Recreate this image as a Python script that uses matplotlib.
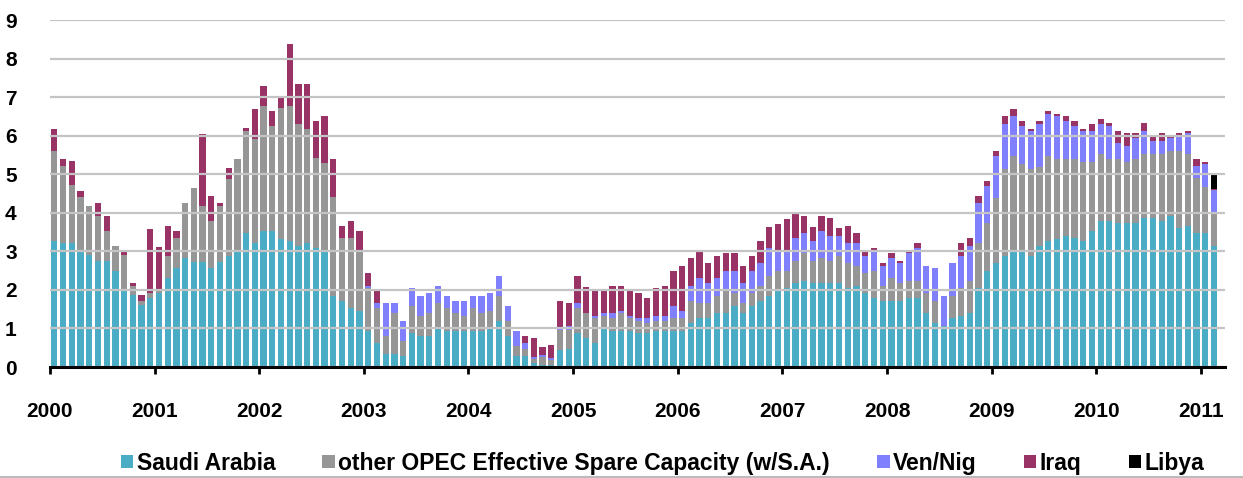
import numpy as np
import matplotlib
matplotlib.use('Agg')
from matplotlib import pyplot as plt
from matplotlib.lines import Line2D

# monthly spare capacity, Jan 2000 .. Feb 2011 (mb/d)
saudi = [3.27, 3.21, 3.21, 3.02, 2.90, 2.75, 2.75, 2.50, 1.98, 1.87, 1.61, 1.78,
         1.91, 2.30, 2.56, 2.82, 2.73, 2.73, 2.56, 2.73, 2.89, 3.02, 3.47, 3.21,
         3.53, 3.53, 3.32, 3.27, 3.15, 3.21, 3.08, 3.02, 1.85, 1.72, 1.52, 1.46,
         0.94, 0.63, 0.35, 0.35, 0.29, 0.87, 0.81, 0.81, 1.00, 0.94, 0.94, 0.94,
         0.94, 0.94, 1.00, 1.19, 0.81, 0.29, 0.29, 0.10, 0.05, 0.05, 0.44, 0.48,
         0.87, 0.74, 0.61, 1.00, 0.94, 0.94, 0.94, 0.87, 0.87, 0.94, 0.94, 0.94,
         0.94, 1.13, 1.26, 1.26, 1.39, 1.39, 1.59, 1.39, 1.59, 1.72, 1.85, 1.98,
         2.04, 2.17, 2.23, 2.17, 2.17, 2.17, 2.17, 2.04, 2.11, 1.91, 1.78, 1.72,
         1.72, 1.72, 1.78, 1.78, 1.39, 1.13, 1.07, 1.26, 1.33, 1.39, 2.04, 2.49,
         2.69, 2.89, 3.01, 3.01, 2.89, 3.15, 3.27, 3.32, 3.41, 3.34, 3.27, 3.53,
         3.79, 3.79, 3.73, 3.73, 3.73, 3.86, 3.86, 3.79, 3.92, 3.60, 3.66, 3.47,
         3.47, 3.15]
other = [2.32, 2.01, 1.50, 1.40, 1.28, 1.17, 0.79, 0.64, 0.92, 0.24, 0.11, 0.15,
         0.05, 0.59, 0.78, 1.43, 1.91, 1.45, 1.24, 1.45, 1.99, 2.38, 2.65, 2.71,
         3.23, 2.71, 3.39, 3.49, 3.15, 2.97, 2.34, 2.27, 2.57, 1.62, 1.82, 1.56,
         1.10, 0.89, 0.46, 1.04, 0.39, 0.71, 0.52, 0.58, 0.65, 0.58, 0.45, 0.39,
         0.58, 0.45, 0.46, 0.66, 0.39, 0.26, 0.19, 0.10, 0.20, 0.12, 0.52, 0.48,
         0.65, 0.65, 0.65, 0.33, 0.32, 0.45, 0.32, 0.33, 0.26, 0.26, 0.26, 0.32,
         0.32, 0.59, 0.39, 0.39, 0.46, 0.59, 0.32, 0.26, 0.32, 0.38, 0.51, 0.51,
         0.45, 0.58, 0.72, 0.58, 0.65, 0.58, 0.71, 0.65, 0.51, 0.52, 0.71, 0.38,
         0.58, 0.45, 0.45, 0.45, 0.52, 0.59, 0.00, 0.59, 0.71, 0.84, 1.17, 1.24,
         1.69, 2.25, 2.47, 2.26, 2.25, 2.05, 2.21, 2.08, 1.99, 2.06, 2.06, 1.80,
         1.73, 1.61, 1.67, 1.60, 1.67, 1.66, 1.66, 1.73, 1.67, 1.99, 1.86, 1.43,
         1.21, 0.88]
ven_nig = [0] * 36 + [
         0.07, 0.13, 0.84, 0.26, 0.52, 0.48, 0.52, 0.52, 0.45, 0.33, 0.33, 0.39,
         0.33, 0.46, 0.45, 0.51, 0.39, 0.39, 0.13, 0.05, 0.07, 0.06, 0.07, 0.11,
         0.13, 0.00, 0.07, 0.06, 0.13, 0.07, 0.07, 0.06, 0.13, 0.13, 0.13, 0.33,
         0.20, 0.39, 0.65, 0.52, 0.45, 0.51, 0.58, 0.52, 0.58, 0.59, 0.72, 0.52,
         0.53, 0.59, 0.52, 0.53, 0.71, 0.66, 0.53, 0.52, 0.59, 0.45, 0.53, 0.52,
         0.52, 0.52, 0.72, 0.85, 0.71, 0.84, 0.78, 0.84, 0.84, 0.91, 1.04, 0.97,
         1.10, 1.17, 1.02, 0.97, 0.98, 1.11, 1.09, 1.11, 0.97, 0.84, 0.79, 0.79,
         0.79, 0.85, 0.40, 0.39, 0.53, 0.60, 0.35, 0.35, 0.34, 0.40, 0.54, 0.32,
         0.59, 0.56]
iraq = [0.59, 0.18, 0.63, 0.15, 0.00, 0.33, 0.38, 0.00, 0.12, 0.08, 0.14, 1.66,
        1.14, 0.77, 0.20, 0.00, 0.00, 1.87, 0.64, 0.07, 0.28, 0.00, 0.07, 0.78,
        0.52, 0.39, 0.31, 1.61, 1.04, 1.16, 0.96, 1.21, 0.98, 0.32, 0.46, 0.52,
        0.32, 0.33, 0, 0, 0, 0, 0, 0, 0, 0, 0, 0,
        0, 0, 0, 0, 0, 0, 0.20, 0.50, 0.20, 0.34, 0.69, 0.58,
        0.71, 0.68, 0.65, 0.59, 0.71, 0.64, 0.65, 0.65, 0.52, 0.71, 0.77, 0.90,
        1.17, 0.71, 0.72, 0.52, 0.58, 0.46, 0.46, 0.45, 0.39, 0.59, 0.56, 0.70,
        0.82, 0.67, 0.45, 0.36, 0.39, 0.45, 0.19, 0.45, 0.26, 0.14, 0.06, 0.07,
        0.13, 0.06, 0.07, 0.13, 0, 0, 0, 0, 0.33, 0.20, 0.19, 0.13,
        0.13, 0.20, 0.20, 0.13, 0.06, 0.07, 0.07, 0.06, 0.13, 0.13, 0.06, 0.19,
        0.13, 0.07, 0.32, 0.34, 0.13, 0.20, 0.11, 0.19, 0.06, 0.07, 0.06, 0.17,
        0.06, 0.03]
libya = [0] * 133 + [0.42]

series = [saudi, other, ven_nig, iraq, libya]
labels = ['Saudi Arabia', 'other OPEC Effective Spare Capacity (w/S.A.)',
          'Ven/Nig', 'Iraq', 'Libya']
colors = ['#4BACC6', '#969696', '#8080FF', '#993366', '#000000']
years = list(range(2000, 2012))

n = len(saudi)
x = 2000 + (np.arange(n) + 0.5) / 12.0

plt.rcParams['font.family'] = ['Liberation Sans', 'DejaVu Sans']
plt.rcParams['font.weight'] = 'bold'

fig = plt.figure(figsize=(12.43, 4.78), dpi=100)
ax = fig.add_axes([0.0402, 0.2322, 0.9453, 0.7259])

bottom = np.zeros(n)
for vals, lab, col in zip(series, labels, colors):
    vals = np.array(vals, dtype=float)
    ax.bar(x, vals, width=0.72 / 12, bottom=bottom, color=col, label=lab,
           linewidth=0, zorder=2)
    bottom += vals

ax.set_xlim(2000, 2011.23)
ax.set_ylim(0, 9)
ax.set_yticks(range(0, 10))
ax.set_xticks(years)
ax.set_xticklabels([str(y) for y in years], fontsize=15, fontweight='bold')
ax.set_yticklabels([str(v) for v in range(0, 10)], fontsize=15, fontweight='bold')

ax.grid(axis='y', color='#C4C4C4', linewidth=1.6, zorder=3)
ax.set_axisbelow(False)
for s in ['left', 'right', 'top']:
    ax.spines[s].set_visible(False)
ax.spines['bottom'].set_linewidth(2.2)
ax.spines['bottom'].set_zorder(4)
ax.tick_params(axis='x', direction='out', length=5, width=2, pad=20)
ax.tick_params(axis='y', length=0, pad=24)

leg = fig.legend(loc='center', bbox_to_anchor=(0.533, 0.031), ncol=5,
                 frameon=False, fontsize=16.5, handlelength=0.55, handleheight=0.55,
                 handletextpad=0.15, columnspacing=2.05)

fig.add_artist(Line2D([0, 1], [0.002, 0.002], color='#BBBBBB', linewidth=1.5,
                      transform=fig.transFigure))

plt.savefig('out.png', dpi=100)
